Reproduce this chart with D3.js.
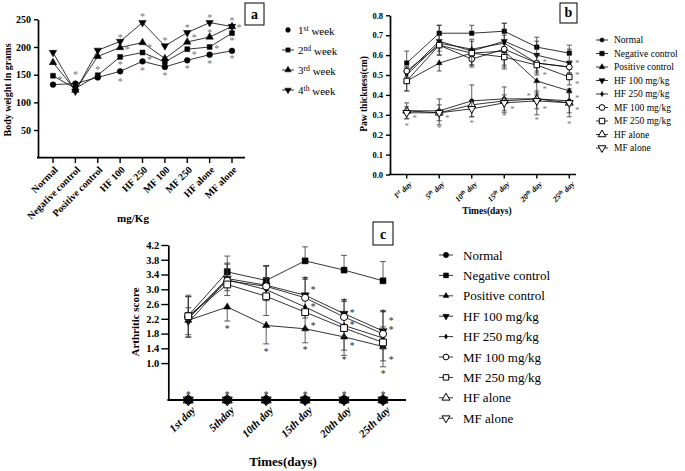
<!DOCTYPE html>
<html><head><meta charset="utf-8">
<script src="https://cdn.jsdelivr.net/npm/d3@7"></script>
<style>body{margin:0;background:#fff}svg{display:block}</style>
</head><body>
<svg id="chart" width="685" height="471" font-family="Liberation Serif"></svg>
<script>
// ---------- Panel a data ----------
const groupsA = ["Normal","Negative control","Positive control","HF 100","HF 250","MF 100","MF 250","HF alone","MF alone"];
const weeksA = ["1st week","2nd week","3rd week","4th week"];
const week1 = [132,134,145,156,174,164,176,186,193];
const week2 = [148,125,149,182,190,173,196,200,225];
const week3 = [172,122,183,199,208,179,209,218,237];
const week4 = [190,120,194,210,244,202,226,244,237];
const ticksA = [50,100,150,200,250];
// [group index, value, side(0 centred, 1 right)]
const starsA = [[0,144,1],[1,153,0],[2,162,0],[3,220,0],[3,198,1],[3,171,0],[3,140,0],
  [4,258,0],[4,202,1],[4,180,1],[4,160,0],[5,214,0],[5,151,0],[6,238,0],[6,220,1],[6,189,1],[6,164,0],
  [7,256,0],[7,229,0],[7,200,1],[7,173,0],[8,251,0],[8,238,1],[8,214,0],[8,182,0]];

// ---------- Panel b data ----------
const daysB = ["1st day","5th day","10th day","15th day","20th day","25th day"];
const seriesNames = ["Normal","Negative control","Positive control","HF 100 mg/kg","HF 250 mg/kg","MF 100 mg/kg","MF 250 mg/kg","HF alone","MF alone"];
const normalB = [0.32,0.32,0.37,0.38,0.38,0.37];
const negB    = [0.56,0.71,0.71,0.72,0.64,0.61];
const posB    = [0.47,0.56,0.61,0.62,0.47,0.42];
const hf100B  = [0.51,0.67,0.62,0.67,0.60,0.56];
const hf250B  = [0.50,0.66,0.63,0.66,0.56,0.54];
const mf100B  = [0.52,0.65,0.58,0.63,0.56,0.54];
const mf250B  = [0.47,0.65,0.61,0.59,0.55,0.49];
const hfAloneB= [0.32,0.31,0.35,0.37,0.38,0.36];
const mfAloneB= [0.31,0.31,0.33,0.36,0.37,0.36];
const errNormalB = [0.04,0.06,0.08,0.06,0.04,0.06];
const errNegB    = [0.06,0.04,0.04,0.04,0.05,0.04];
const errPosB    = [0.05,0.04,0.06,0.08,0.07,0.05];
const errHf100B  = [0.03,0.08,0.06,0.09,0.07,0.07];
const errHf250B  = [0.04,0.04,0.04,0.04,0.04,0.03];
const errMf100B  = [0.03,0.05,0.04,0.08,0.05,0.03];
const errMf250B  = [0.05,0.05,0.06,0.06,0.05,0.04];
const errHfAloneB= [0.04,0.06,0.06,0.06,0.08,0.07];
const errMfAloneB= [0.03,0.04,0.04,0.04,0.04,0.05];
const ticksB = [0,0.1,0.2,0.3,0.4,0.5,0.6,0.7,0.8];
const starsB = [[0,0.25,0],[0,0.29,1],[1,0.24,0],[1,0.29,1],[2,0.267,0],[3,0.30,0],[3,0.335,1],
  [4,0.28,0],[4,0.337,1],[4,0.40,-1],[4,0.572,1],[4,0.508,1],[4,0.437,1],
  [5,0.26,0],[5,0.33,1],[5,0.39,1],[5,0.46,1],[5,0.51,1],[5,0.57,1]];

// ---------- Panel c data ----------
const daysC = ["1st day","5thday","10th day","15th day","20th day","25th day"];
const normalC = [0,0,0,0,0,0];
const negC    = [2.29,3.47,3.24,3.77,3.52,3.23];
const posC    = [2.16,2.52,2.02,1.93,1.71,1.45];
const hf100C  = [2.20,3.29,3.11,2.84,2.34,1.87];
const hf250C  = [2.10,3.26,2.99,2.52,2.02,1.68];
const mf100C  = [2.25,3.23,3.08,2.77,2.25,1.79];
const mf250C  = [2.27,3.13,2.81,2.38,1.95,1.56];
const hfAloneC= [0,0,0,0,0,0];
const mfAloneC= [0,0,0,0,0,0];
const errNegC   = [0.55,0.43,0.40,0.38,0.40,0.52];
const errPosC   = [0.45,0.38,0.50,0.38,0.50,0.55];
const errHf100C = [0.60,0.42,0.52,0.48,0.38,0.55];
const errHf250C = [0.40,0.30,0.30,0.30,0.30,0.30];
const errMf100C = [0.55,0.45,0.55,0.50,0.42,0.60];
const errMf250C = [0.50,0.30,0.52,0.50,0.60,0.50];
const ticksC = [1.0,1.4,1.8,2.2,2.6,3.0,3.4,3.8,4.2];
const starsC = [[0,0.17,0],[1,0.17,0],[2,0.17,0],[3,0.17,0],[4,0.17,0],[5,0.17,0],
  [1,1.96,0],[2,1.36,0],[3,1.41,0],[3,2.04,1],[3,2.57,1],[3,3.02,1],[3,3.29,0],
  [4,2.70,0],[4,2.41,1],[4,2.07,1],[4,1.50,1],[4,1.12,0],
  [5,2.41,0],[5,2.18,1],[5,1.94,1],[5,1.12,1],[5,0.76,0]];

// ---------- helpers ----------
const FONT = "Liberation Serif";
const svg = d3.select("#chart");
svg.append("rect").attr("width",685).attr("height",471).attr("fill","#fff");

function sym(g, type, x, y, area){
  const open = type[0] === "o";
  const base = open ? type.slice(1) : type;
  let st = d3.symbolCircle, rot = 0;
  if (base === "square") st = d3.symbolSquare;
  if (base === "tri") st = d3.symbolTriangle;
  if (base === "tridown") { st = d3.symbolTriangle; rot = 180; }
  if (base === "dot") { st = d3.symbolDiamond; area *= 0.55; }
  g.append("path").attr("d", d3.symbol().type(st).size(area)())
    .attr("transform", `translate(${x},${y}) rotate(${rot})`)
    .attr("fill", open ? "#fff" : "#000").attr("stroke","#000").attr("stroke-width", open ? 1 : 0.5);
}
function supText(sel, label){
  const m = label.match(/^(\d+)(st|nd|rd|th)(.*)$/);
  if (!m) { sel.text(label); return; }
  sel.append("tspan").text(m[1]);
  sel.append("tspan").attr("dy","-0.4em").attr("font-size","70%").text(m[2]);
  sel.append("tspan").attr("dy","0.4em").text(m[3]);
}
function stars(g, data, xf, y, fs, color, side){
  data.forEach(d => {
    g.append("text").attr("x", xf(d[0]) + d[2]*side).attr("y", y(d[1]) + fs*0.5)
      .attr("text-anchor","middle").attr("font-size",fs).attr("fill",color).attr("font-family",FONT).text("*");
  });
}
function boxLabel(x, y, w, h, t){
  svg.append("rect").attr("x",x).attr("y",y).attr("width",w).attr("height",h)
    .attr("fill","#fff").attr("stroke","#000").attr("stroke-width",1);
  svg.append("text").attr("x",x+w/2).attr("y",y+h*0.72).attr("text-anchor","middle").attr("font-family",FONT)
    .attr("font-weight","bold").attr("font-size",14).text(t);
}
function drawSeries(g, vals, x, y, type, area, err, dir, cap){
  const pts = vals.map((v,i)=>[x(i), y(v)]);
  if (err) {
    vals.forEach((v,i)=>{
      const e = err[i]; const xi = x(i);
      if (dir >= 0) {
        g.append("line").attr("x1",xi).attr("x2",xi).attr("y1",y(v)).attr("y2",y(v+e)).attr("stroke","#333").attr("stroke-width",0.8);
        g.append("line").attr("x1",xi-cap).attr("x2",xi+cap).attr("y1",y(v+e)).attr("y2",y(v+e)).attr("stroke","#333").attr("stroke-width",0.8);
      }
      if (dir <= 0) {
        g.append("line").attr("x1",xi).attr("x2",xi).attr("y1",y(v)).attr("y2",y(v-e)).attr("stroke","#333").attr("stroke-width",0.8);
        g.append("line").attr("x1",xi-cap).attr("x2",xi+cap).attr("y1",y(v-e)).attr("y2",y(v-e)).attr("stroke","#333").attr("stroke-width",0.8);
      }
    });
  }
  g.append("path").attr("d", d3.line()(pts)).attr("fill","none").attr("stroke","#000").attr("stroke-width",0.8);
  pts.forEach(p => sym(g, type, p[0], p[1], area));
}
function styleAxis(ax, fs){
  ax.attr("font-family", null);
  ax.select(".domain").attr("stroke-width",1.7);
  ax.selectAll(".tick line").attr("stroke-width",1.4);
  ax.selectAll("text").attr("font-size",fs).attr("font-weight","bold").attr("font-family",FONT);
}

// ---------- Panel a ----------
(function(){
  const g = svg.append("g");
  const x = d3.scalePoint().domain(groupsA).range([53,232]);
  const y = d3.scaleLinear().domain([0,250]).range([157.7,19.3]);
  const xi = i => x(groupsA[i]);
  const ya = g.append("g").attr("transform","translate(38,0)")
    .call(d3.axisLeft(y).tickValues(ticksA).tickSize(4).tickSizeOuter(0));
  styleAxis(ya, 10);
  g.append("line").attr("x1",37).attr("x2",245).attr("y1",157.7).attr("y2",157.7).attr("stroke","#000").attr("stroke-width",1.7);
  groupsA.forEach((c,i)=>{
    g.append("line").attr("x1",x(c)).attr("x2",x(c)).attr("y1",157.7).attr("y2",163).attr("stroke","#000").attr("stroke-width",1.4);
    g.append("text").attr("transform",`translate(${x(c)+3},168) rotate(-45)`).attr("text-anchor","end").attr("font-family",FONT)
      .attr("dy","0.35em").attr("font-size",10).attr("font-weight","bold").text(c);
  });
  g.append("text").attr("x",133).attr("y",222).attr("text-anchor","middle").attr("font-size",11).attr("font-weight","bold").attr("font-family",FONT).text("mg/Kg");
  g.append("text").attr("transform","translate(11,90) rotate(-90)").attr("text-anchor","middle").attr("font-family",FONT)
    .attr("font-size",10).attr("font-weight","bold").text("Body weight in grams");
  const types = ["circle","square","tri","tridown"];
  [week1,week2,week3,week4].forEach((s,k)=> drawSeries(g, s, xi, y, types[k], k===0?26:24, null, 0, 0));
  stars(g, starsA, xi, y, 10, "#777", 7);
  weeksA.forEach((w,k)=>{
    const ly = 30 + 20*k;
    if (k>0) g.append("line").attr("x1",282).attr("x2",294).attr("y1",ly).attr("y2",ly).attr("stroke","#000").attr("stroke-width",0.8);
    sym(g, types[k], 288, ly, 18);
    const t = g.append("text").attr("x",298).attr("y",ly+4).attr("font-size",11).attr("font-family",FONT);
    supText(t, w);
  });
  boxLabel(245,3,19,22,"a");
})();

// ---------- Panel b ----------
(function(){
  const g = svg.append("g");
  const x = d3.scalePoint().domain(daysB).range([406.7,569.3]);
  const xi = i => x(daysB[i]);
  const y = d3.scaleLinear().domain([0,0.8]).range([174.5,15.3]);
  const ya = g.append("g").attr("transform","translate(390,0)")
    .call(d3.axisLeft(y).tickValues(ticksB).tickFormat(d3.format(".1f")).tickSize(4).tickSizeOuter(0));
  styleAxis(ya, 8.5);
  g.append("line").attr("x1",389).attr("x2",576).attr("y1",174.5).attr("y2",174.5).attr("stroke","#000").attr("stroke-width",1.7);
  daysB.forEach((c,i)=>{
    g.append("line").attr("x1",x(c)).attr("x2",x(c)).attr("y1",174.5).attr("y2",178.5).attr("stroke","#000").attr("stroke-width",1.4);
    const t = g.append("text").attr("transform",`translate(${x(c)+3},182) rotate(-45)`).attr("text-anchor","end").attr("font-family",FONT)
      .attr("dy","0.35em").attr("font-size",8).attr("font-weight","bold").attr("font-style","italic");
    supText(t, c);
  });
  g.append("text").attr("x",487).attr("y",214).attr("text-anchor","middle").attr("font-size",9.5).attr("font-weight","bold").attr("font-family",FONT).text("Times(days)");
  g.append("text").attr("transform","translate(367,94) rotate(-90)").attr("text-anchor","middle").attr("font-family",FONT)
    .attr("font-size",9.5).attr("font-weight","bold").text("Paw thickness(cm)");
  const types = ["circle","square","tri","tridown","dot","ocircle","osquare","otri","otridown"];
  const vals = [normalB,negB,posB,hf100B,hf250B,mf100B,mf250B,hfAloneB,mfAloneB];
  const errs = [errNormalB,errNegB,errPosB,errHf100B,errHf250B,errMf100B,errMf250B,errHfAloneB,errMfAloneB];
  const dirs = [1,1,-1,1,0,-1,-1,-1,0];
  const areas = [14,20,14,16,14,26,30,26,26];
  vals.forEach((s,k)=> drawSeries(g, s, xi, y, types[k], areas[k], errs[k], dirs[k], 2.5));
  stars(g, starsB, xi, y, 9, "#777", 8);
  seriesNames.forEach((n,k)=>{
    const ly = 40 + 13.5*k;
    g.append("line").attr("x1",596).attr("x2",608).attr("y1",ly).attr("y2",ly).attr("stroke","#000").attr("stroke-width",0.8);
    sym(g, types[k], 602, ly, areas[k]);
    g.append("text").attr("x",614).attr("y",ly+3.3).attr("font-size",9.5).attr("font-family",FONT).text(n);
  });
  boxLabel(560,3,17,20,"b");
})();

// ---------- Panel c ----------
(function(){
  const g = svg.append("g");
  const x = d3.scalePoint().domain(daysC).range([188.3,383]);
  const xi = i => x(daysC[i]);
  const y = d3.scaleLinear().domain([0,4.2]).range([400,245]);
  const ya = g.append("g").attr("transform","translate(168.3,0)")
    .call(d3.axisLeft(y).tickValues(ticksC).tickFormat(d3.format(".1f")).tickSize(7).tickPadding(2).tickSizeOuter(0));
  styleAxis(ya, 10.5);
  g.append("line").attr("x1",167.4).attr("x2",406).attr("y1",400).attr("y2",400).attr("stroke","#000").attr("stroke-width",1.8);
  daysC.forEach((c,i)=>{
    g.append("line").attr("x1",x(c)).attr("x2",x(c)).attr("y1",400).attr("y2",404.5).attr("stroke","#000").attr("stroke-width",1.4);
    g.append("text").attr("transform",`translate(${x(c)+5},408) rotate(-45)`).attr("text-anchor","end").attr("font-family",FONT)
      .attr("dy","0.35em").attr("font-size",11).attr("font-weight","bold").attr("font-style","italic").text(c);
  });
  g.append("text").attr("x",283).attr("y",466).attr("text-anchor","middle").attr("font-size",13).attr("font-weight","bold").attr("font-family",FONT).text("Times(days)");
  g.append("text").attr("transform","translate(139,322) rotate(-90)").attr("text-anchor","middle").attr("font-family",FONT)
    .attr("font-size",11).attr("font-weight","bold").text("Arthritic score");
  const types = ["circle","square","tri","tridown","dot","ocircle","osquare","otri","otridown"];
  const vals = [normalC,negC,posC,hf100C,hf250C,mf100C,mf250C,hfAloneC,mfAloneC];
  const errs = [null,errNegC,errPosC,errHf100C,errHf250C,errMf100C,errMf250C,null,null];
  const dirs = [0,1,-1,1,0,1,-1,0,0];
  const areas = [30,36,22,28,20,40,46,44,44];
  const order = [7,8,1,2,3,4,5,6,0];
  order.forEach(k=> drawSeries(g, vals[k], xi, y, types[k], k===0?60:areas[k], errs[k], dirs[k], 3));
  stars(g, starsC, xi, y, 9.5, "#222", 8);
  const legAreas = [22,24,14,18,14,26,30,28,28];
  seriesNames.forEach((n,k)=>{
    const ly = 255 + 20.4*k;
    g.append("line").attr("x1",439).attr("x2",453).attr("y1",ly).attr("y2",ly).attr("stroke","#000").attr("stroke-width",0.8);
    sym(g, types[k], 446, ly, legAreas[k]);
    g.append("text").attr("x",463).attr("y",ly+4.5).attr("font-size",13).attr("font-family",FONT).text(n);
  });
  boxLabel(373,222,20,23,"c");
})();
</script>
</body></html>
